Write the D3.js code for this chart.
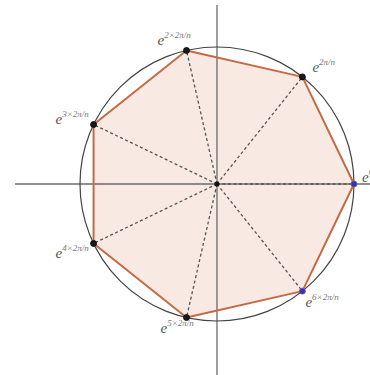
<!DOCTYPE html>
<html><head><meta charset="utf-8">
<script src="https://cdn.jsdelivr.net/npm/d3@7"></script>
<style>html,body{margin:0;padding:0;background:#fff;}svg{display:block;}</style>
</head><body>
<svg id="c" width="370" height="375"></svg>
<script>
const n = 7;
const rootIndex = [0, 1, 2, 3, 4, 5, 6];
const exponentLabels = ["0", "2π/n", "2×2π/n", "3×2π/n", "4×2π/n", "5×2π/n", "6×2π/n"];
const highlighted = [0, 6];

// label layout (pixel offsets from vertex) – presentation only
const labelOffset = {0:[8,-2],1:[10,-5],2:[-29,-5],3:[-38,-1],4:[-38,15],5:[-26,15],6:[3,16]};

const svg = d3.select("#c");
const x = d3.scaleLinear().domain([-1.584, 1.117]).range([0, 370]);
const y = d3.scaleLinear().domain([1.343, -1.394]).range([0, 375]);

const pts = rootIndex.map(k => {
  const a = 2 * Math.PI * k / n;
  return {k, re: Math.cos(a), im: Math.sin(a)};
});

svg.append("polygon")
  .attr("points", pts.map(p => [x(p.re), y(p.im)].join(",")).join(" "))
  .attr("fill", "#f9e9e3").attr("stroke", "none");

svg.append("line").attr("x1", x(-1.475)).attr("x2", 370).attr("y1", y(0)).attr("y2", y(0))
  .attr("stroke", "#6a6a6a").attr("stroke-width", 1.3);
svg.append("line").attr("x1", x(0)).attr("x2", x(0)).attr("y1", 5).attr("y2", 375)
  .attr("stroke", "#6a6a6a").attr("stroke-width", 1.3);

svg.selectAll("line.r").data(pts).join("line").attr("class", "r")
  .attr("x1", x(0)).attr("y1", y(0)).attr("x2", d => x(d.re)).attr("y2", d => y(d.im))
  .attr("stroke", "#555").attr("stroke-width", 1.3).attr("stroke-dasharray", "3,2.5");

svg.append("circle").attr("cx", x(0)).attr("cy", y(0)).attr("r", x(1) - x(0))
  .attr("fill", "none").attr("stroke", "#444").attr("stroke-width", 1.2);

svg.append("polygon")
  .attr("points", pts.map(p => [x(p.re), y(p.im)].join(",")).join(" "))
  .attr("fill", "none").attr("stroke", "#c56a44").attr("stroke-width", 2).attr("stroke-linejoin", "round");

svg.selectAll("circle.v").data(pts).join("circle").attr("class", "v")
  .attr("cx", d => x(d.re)).attr("cy", d => y(d.im)).attr("r", 3)
  .attr("fill", d => highlighted.includes(d.k) ? "#3535a8" : "#1a1a1a")
  .attr("stroke", d => highlighted.includes(d.k) ? "#5a5ac8" : "#000").attr("stroke-width", 0.8);

svg.append("circle").attr("cx", x(0)).attr("cy", y(0)).attr("r", 2.5).attr("fill", "#111");

const t = svg.selectAll("text.l").data(pts).join("text").attr("class", "l")
  .attr("x", d => x(d.re) + labelOffset[d.k][0])
  .attr("y", d => y(d.im) + labelOffset[d.k][1])
  .attr("fill", "#555").attr("font-family", "'Liberation Serif','DejaVu Serif',serif");
t.append("tspan").attr("font-size", 15).attr("font-style", "italic").text("e");
t.append("tspan").attr("font-size", 9).attr("font-style", "italic").attr("fill", "#777").attr("dy", -7)
  .text(d => exponentLabels[d.k]);
</script>
</body></html>
